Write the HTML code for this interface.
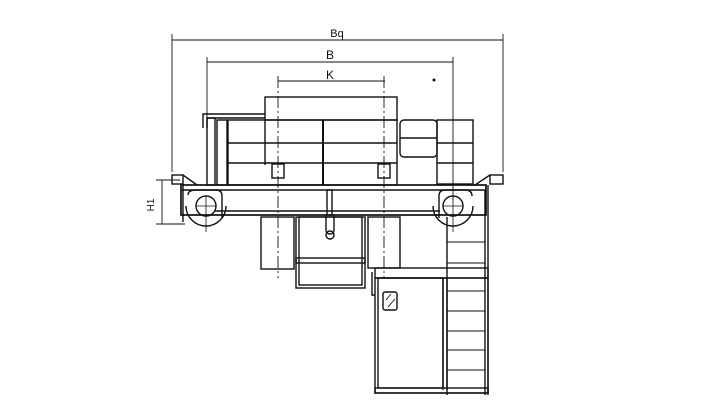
<!DOCTYPE html>
<html><head><style>html,body{margin:0;padding:0;background:#fff;width:720px;height:412px;overflow:hidden}</style></head>
<body>
<svg width="720" height="412" viewBox="0 0 720 412" xmlns="http://www.w3.org/2000/svg" fill="none" stroke="#111" stroke-width="1.4" font-family="Liberation Sans, sans-serif">
<line x1="172" y1="40" x2="503" y2="40" stroke-width="0.9"/>
<line x1="172" y1="34" x2="172" y2="172" stroke-width="0.9"/>
<line x1="503" y1="34" x2="503" y2="172" stroke-width="0.9"/>
<text x="337" y="37" font-size="11" fill="#111" stroke="none" text-anchor="middle">Bq</text>
<line x1="207" y1="62" x2="453" y2="62" stroke-width="0.9"/>
<line x1="207" y1="57" x2="207" y2="120" stroke-width="0.9"/>
<line x1="453" y1="57" x2="453" y2="200" stroke-width="0.9"/>
<text x="330" y="59" font-size="12" fill="#111" stroke="none" text-anchor="middle">B</text>
<line x1="278" y1="81" x2="385" y2="81" stroke-width="0.9"/>
<line x1="278" y1="76" x2="278" y2="278" stroke-width="0.9" stroke-dasharray="12,3,2,3"/>
<line x1="384" y1="76" x2="384" y2="278" stroke-width="0.9" stroke-dasharray="12,3,2,3"/>
<text x="330" y="79" font-size="12" fill="#111" stroke="none" text-anchor="middle">K</text>
<circle cx="434" cy="80" r="0.8" fill="#111"/>
<line x1="162" y1="180" x2="162" y2="224" stroke-width="0.9"/>
<line x1="156" y1="180" x2="180" y2="180" stroke-width="0.9"/>
<line x1="156" y1="224" x2="185" y2="224" stroke-width="0.9"/>
<text x="0" y="0" font-size="10" fill="#111" stroke="none" transform="translate(154,205) rotate(-90)" text-anchor="middle">H1</text>
<rect x="265" y="97" width="132" height="23"/>
<path d="M203 128 V114 H265 M207 128 V118 H265"/>
<rect x="207" y="118" width="8" height="67"/>
<rect x="217" y="120" width="10" height="65"/>
<rect x="228" y="120" width="169" height="65"/>
<line x1="228" y1="143" x2="397" y2="143"/>
<line x1="228" y1="163" x2="397" y2="163"/>
<line x1="323" y1="120" x2="323" y2="185" stroke-width="2"/>
<line x1="265" y1="120" x2="265" y2="165"/>
<rect x="272" y="164" width="12" height="14"/>
<rect x="378" y="164" width="12" height="14"/>
<rect x="400" y="120" width="37" height="37" rx="4"/>
<line x1="400" y1="138" x2="437" y2="138"/>
<rect x="437" y="120" width="36" height="64"/>
<line x1="437" y1="143" x2="473" y2="143"/>
<line x1="437" y1="163" x2="473" y2="163"/>
<rect x="181" y="185" width="305" height="30" stroke-width="1.7"/>
<line x1="181" y1="190" x2="486" y2="190"/>
<line x1="215" y1="211" x2="440" y2="211"/>
<rect x="327" y="190" width="5" height="25"/>
<rect x="172" y="175" width="11" height="9"/>
<rect x="490" y="175" width="13" height="9"/>
<path d="M183 175 L197 185 M490 175 L475 185"/>
<circle cx="206" cy="206" r="10"/>
<path d="M186 206 A20 20 0 0 0 226 206"/>
<path d="M188 195 Q188 190 196 190 H216 Q222 190 222 196 V218"/>
<line x1="196" y1="206" x2="216" y2="206" stroke-width="0.8"/>
<line x1="206" y1="196" x2="206" y2="232" stroke-width="0.8"/>
<circle cx="453" cy="206" r="10"/>
<path d="M433 206 A20 20 0 0 0 473 206"/>
<path d="M439 218 V196 Q439 190 445 190 H465 Q472 190 472 196"/>
<line x1="443" y1="206" x2="463" y2="206" stroke-width="0.8"/>
<line x1="453" y1="196" x2="453" y2="232" stroke-width="0.8"/>
<line x1="183" y1="185" x2="183" y2="222"/>
<rect x="261" y="217" width="33" height="52"/>
<rect x="296" y="217" width="69" height="71"/>
<rect x="299" y="217" width="63" height="68"/>
<rect x="296" y="258" width="69" height="5"/>
<path d="M326 215 V230 A4 4 0 0 0 334 230 V215"/>
<circle cx="330" cy="235" r="4"/>
<rect x="368" y="217" width="32" height="51"/>
<path d="M447 217 V395 M485 190 V395 M488 185 V395"/>
<rect x="375" y="268" width="113" height="10"/>
<rect x="375" y="278" width="113" height="115"/>
<rect x="378" y="278" width="65" height="110"/>
<line x1="443" y1="278" x2="443" y2="390"/>
<line x1="447" y1="278" x2="447" y2="390"/>
<rect x="375" y="388" width="113" height="5"/>
<path d="M372 272 V295 H375"/>
<g stroke-width="1.1">
<line x1="447" y1="242" x2="485" y2="242"/>
<line x1="447" y1="263" x2="485" y2="263"/>
<line x1="447" y1="291" x2="485" y2="291"/>
<line x1="447" y1="311" x2="485" y2="311"/>
<line x1="447" y1="331" x2="485" y2="331"/>
<line x1="447" y1="350" x2="485" y2="350"/>
<line x1="447" y1="370" x2="485" y2="370"/>
</g>
<rect x="383" y="292" width="14" height="18" rx="2"/>
<line x1="386" y1="300" x2="391" y2="294" stroke-width="0.9"/>
<line x1="388" y1="307" x2="395" y2="299" stroke-width="0.9"/>
</svg>
</body></html>
